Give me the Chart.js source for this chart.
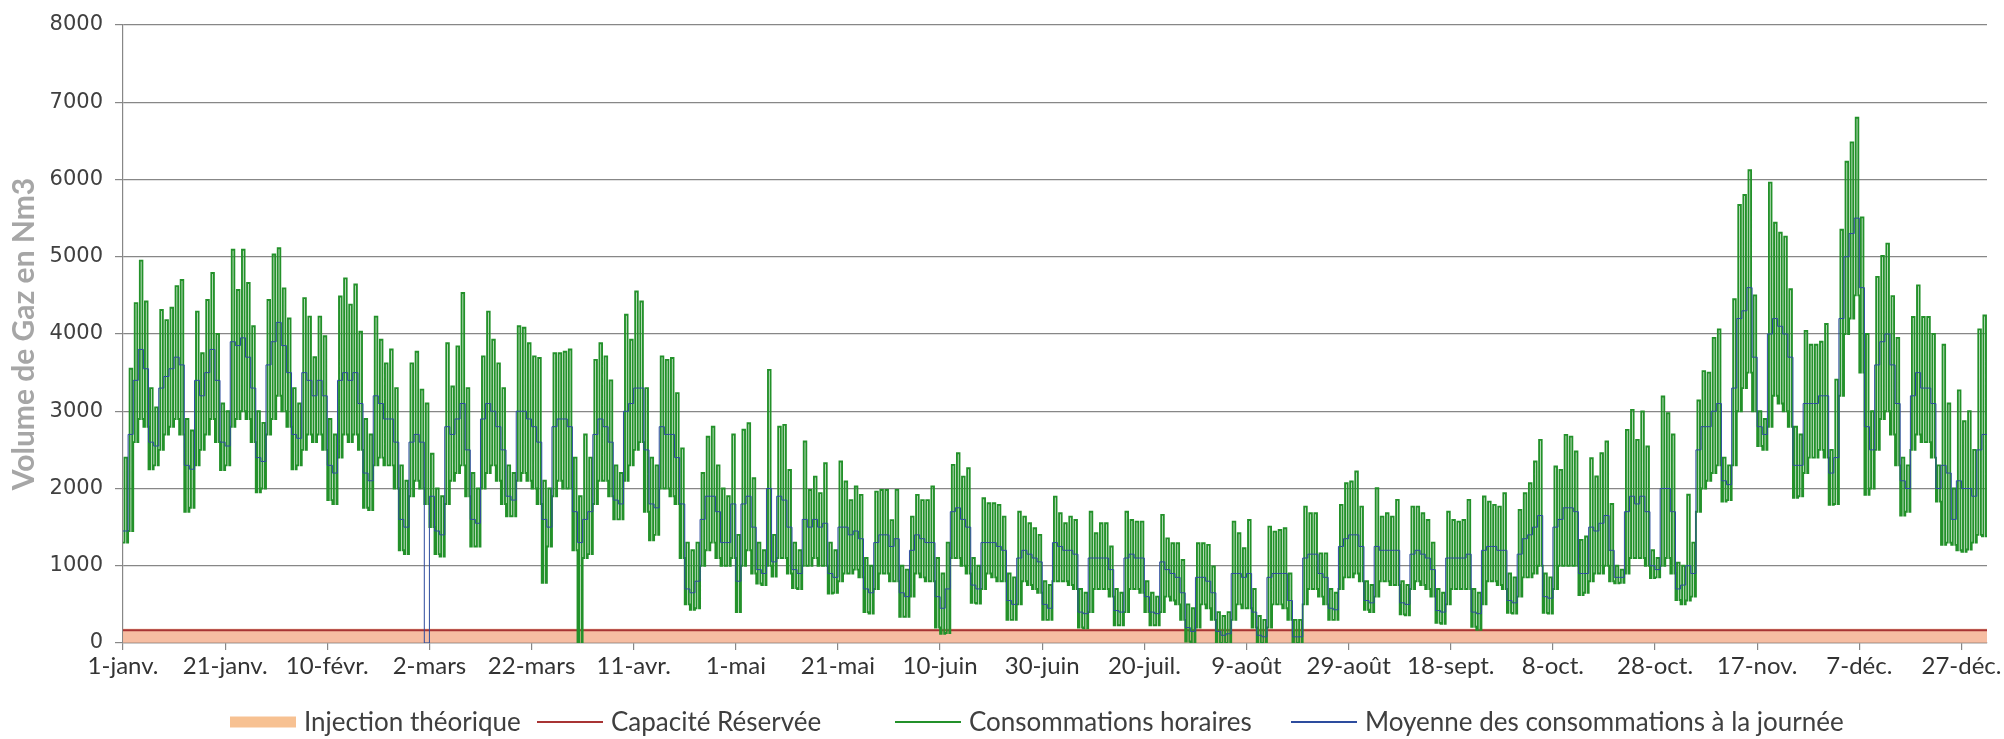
<!DOCTYPE html>
<html lang="fr">
<head>
<meta charset="utf-8">
<title>Consommations de gaz</title>
<script src="https://cdn.jsdelivr.net/npm/chart.js@4.4.1/dist/chart.umd.min.js"></script>
<style>
  html, body { margin: 0; padding: 0; background: #ffffff; }
  #wrap { position: relative; width: 2004px; height: 739px; }
</style>
</head>
<body>
<div id="wrap"><canvas id="chart" width="2004" height="739"></canvas></div>
<script>
// Date labels shown every 20 days along the year (day 0 = 1 janvier)
const tickLabels = ['1-janv.', '21-janv.', '10-févr.', '2-mars', '22-mars', '11-avr.', '1-mai', '21-mai',
  '10-juin', '30-juin', '20-juil.', '9-août', '29-août', '18-sept.', '8-oct.', '28-oct.',
  '17-nov.', '7-déc.', '27-déc.'];

// Daily maximum of the hourly consumption (Nm3), one row per week (Mon..Sun)
const dailyHigh = [
  2400,3550,4400,4950,4420,3300,3050,
  4310,4180,4340,4620,4700,2900,2750,
  4290,3750,4440,4790,4000,3100,3000,
  5090,4570,5090,4660,4100,3000,2850,
  4440,5030,5110,4590,4200,3300,3100,
  4465,4225,3700,4225,3970,2900,2700,
  4485,4720,4380,4640,4030,2900,2700,
  4225,3925,3620,3800,3300,2300,2100,
  3620,3770,3280,3100,2450,2000,1900,
  3880,3320,3840,4530,3300,2200,2000,
  3710,4290,3925,3620,3300,2300,2200,
  4100,4080,3880,3710,3690,2100,2000,
  3750,3750,3770,3800,2400,1900,2700,
  2400,3665,3880,3710,3400,2300,2200,
  4250,3925,4550,4420,3300,2400,2300,
  3710,3665,3690,3234,2520,1300,1200,
  1300,2200,2670,2800,2300,2000,1900,
  2700,1400,2760,2845,2133,1300,1200,
  3536,1400,2800,2824,2240,1300,1200,
  2608,1980,2154,1940,2327,1300,1200,
  2349,2090,1850,2025,1917,1100,1000,
  1960,1980,1980,1590,1982,1000,950,
  1636,1917,1850,1850,2025,1100,900,
  1300,2306,2457,2154,2262,1100,1000,
  1874,1810,1810,1788,1636,900,850,
  1700,1636,1550,1485,1400,800,750,
  1895,1680,1550,1636,1593,700,650,
  1700,1420,1550,1550,1250,700,650,
  1700,1593,1571,1571,800,650,600,
  1658,1355,1291,1291,1075,500,450,
  1291,1291,1270,990,400,350,400,
  1571,1420,1226,1593,700,350,300,
  1506,1442,1463,1485,900,300,300,
  1766,1680,1680,1160,1160,700,650,
  1788,2068,2090,2220,1766,800,750,
  2003,1636,1680,1636,1853,800,750,
  1766,1766,1680,1593,1300,700,650,
  1700,1593,1571,1593,1853,700,650,
  1896,1830,1788,1766,1939,900,850,
  1723,1939,2068,2349,2630,900,850,
  2284,2241,2694,2672,2479,1335,1378,
  2392,2155,2457,2608,1800,1000,950,
  2759,3018,2630,2997,2543,1200,1100,
  3191,2975,2700,1040,1000,1920,1300,
  3140,3520,3500,3950,4060,2400,2300,
  4450,5670,5800,6120,4500,3000,2900,
  5960,5440,5310,5260,4580,2800,2700,
  4040,3860,3860,3900,4130,2500,3410,
  5350,6230,6480,6800,5510,4000,3000,
  4740,5010,5170,4490,3950,2400,2300,
  4220,4630,4220,4220,4000,2300,3860,
  3100,2000,3270,2870,3000,2500,4060,
  4240
];

// Daily minimum of the hourly consumption (Nm3)
const dailyLow = [
  1300,1450,2600,2900,2800,2250,2300,
  2500,2700,2800,2900,2700,1700,1750,
  2300,2500,2700,2900,2600,2240,2300,
  2800,2900,3000,2900,2600,1950,2000,
  2700,2900,3200,3000,2800,2250,2300,
  2500,2700,2600,2700,2500,1850,1800,
  2400,2700,2600,2700,2500,1750,1720,
  2300,2400,2300,2300,2000,1200,1150,
  1900,2100,2000,1800,1500,1150,1120,
  1800,2100,2200,2300,1900,1250,1250,
  2000,2200,2300,2100,1800,1640,1640,
  2100,2200,2100,2000,1800,780,1250,
  1900,2100,2000,2000,1200,0,1100,
  1150,1800,2100,2100,1900,1600,1600,
  2100,2300,2500,2600,1700,1330,1400,
  2000,2000,1900,1800,1100,500,430,
  450,1000,1200,1300,1100,1000,1000,
  1100,400,1000,1200,900,770,750,
  1000,860,1100,1100,900,710,700,
  1000,1000,1100,1000,1000,640,650,
  800,900,900,950,850,400,380,
  700,900,900,800,800,340,340,
  600,900,850,800,800,200,120,
  130,1100,1100,1000,900,520,510,
  700,900,850,800,800,300,300,
  500,800,750,700,650,300,300,
  800,800,800,750,700,200,190,
  400,700,700,700,600,230,230,
  400,700,700,650,400,230,230,
  400,600,550,500,300,20,0,
  200,500,450,300,0,0,0,
  300,500,450,450,200,0,0,
  200,500,500,450,300,0,0,
  500,700,700,600,500,300,300,
  700,850,850,900,800,430,400,
  600,800,800,750,750,370,360,
  700,800,750,700,600,260,250,
  500,700,700,700,700,210,170,
  500,800,800,750,700,390,380,
  600,850,850,900,1000,390,380,
  700,1000,1000,1000,1000,620,650,
  800,900,900,1000,800,773,780,
  900,1100,1100,1100,1000,840,850,
  1000,1100,900,557,500,550,600,
  1700,2000,2100,2200,2300,1830,1850,
  2300,3000,3300,3500,3000,2550,2500,
  2800,3200,3100,3000,2800,1880,1900,
  2200,2400,2400,2500,2400,1790,1800,
  3200,4000,4200,4500,3500,1920,2000,
  2500,2900,3000,2700,2300,1650,1700,
  2500,2700,2600,2600,2400,1830,1270,
  1300,1270,1200,1180,1210,1300,1400,
  1380
];

// Daily average of the hourly consumption (Nm3)
const dailyMean = [
  1450,2700,3400,3800,3550,2600,2550,
  3300,3450,3550,3700,3600,2300,2250,
  3400,3200,3500,3800,3400,2600,2550,
  3900,3850,3950,3700,3300,2400,2350,
  3600,3900,4150,3850,3500,2700,2650,
  3500,3400,3200,3400,3200,2300,2200,
  3400,3500,3400,3500,3100,2200,2100,
  3200,3100,2900,2900,2600,1600,1500,
  2600,2700,2600,0,1900,1450,1400,
  2800,2700,2900,3100,2500,1600,1550,
  2900,3100,3000,2800,2500,1900,1850,
  3000,3000,2900,2800,2600,1600,1500,
  2800,2900,2900,2800,1700,1300,1600,
  1700,2700,2900,2800,2600,1850,1800,
  3000,3100,3300,3300,2500,1800,1750,
  2800,2700,2700,2400,1800,700,650,
  800,1600,1900,1900,1700,1300,1300,
  1800,800,1800,1900,1500,950,900,
  2000,1050,1900,1850,1500,950,900,
  1600,1500,1600,1500,1550,900,850,
  1500,1500,1400,1450,1350,700,650,
  1300,1400,1400,1250,1350,650,600,
  1200,1400,1350,1300,1300,600,450,
  700,1700,1750,1600,1500,750,700,
  1300,1300,1300,1250,1200,550,500,
  1100,1200,1150,1100,1050,500,450,
  1300,1250,1200,1200,1150,400,380,
  1100,1100,1100,1100,950,420,400,
  1100,1150,1100,1100,600,400,380,
  1050,950,900,850,650,200,150,
  850,850,800,650,150,100,120,
  900,900,850,900,400,100,80,
  850,900,900,900,550,80,80,
  1100,1150,1150,900,850,450,430,
  1250,1350,1400,1400,1250,550,520,
  1250,1200,1200,1200,1200,520,500,
  1150,1200,1150,1100,950,420,400,
  1100,1100,1100,1100,1150,400,380,
  1200,1250,1250,1200,1200,550,520,
  1150,1350,1400,1500,1650,600,580,
  1500,1600,1750,1750,1700,900,900,
  1500,1450,1550,1650,1200,850,850,
  1700,1900,1800,1900,1700,1000,950,
  2000,2000,1700,700,750,1000,900,
  2500,2800,2800,3000,3100,2100,2050,
  3300,4200,4300,4600,3700,2800,2700,
  4000,4200,4100,4000,3700,2300,2300,
  3100,3100,3100,3200,3200,2200,2400,
  4200,5000,5300,5500,4600,2800,2500,
  3600,3900,4000,3600,3100,2100,2000,
  3200,3500,3300,3300,3100,2000,2300,
  2200,1600,2100,2000,2000,1900,2500,
  2700
];

// Flat reference levels (Nm3)
const capaciteReservee = [165, 165];
const injectionTheorique = [95, 95];

const DAYS = dailyMean.length;

// Hourly profile per day: night low, daytime high, evening low (held values)
const hourlyPoints = [];
for (let d = 0; d < DAYS; d++) {
  hourlyPoints.push({ x: d, y: dailyLow[d] });
  hourlyPoints.push({ x: d + 0.3, y: dailyHigh[d] });
  hourlyPoints.push({ x: d + 0.8, y: dailyLow[d] });
}
hourlyPoints.push({ x: DAYS, y: dailyLow[DAYS - 1] });

const meanPoints = dailyMean.map((v, d) => ({ x: d, y: v }));
meanPoints.push({ x: DAYS, y: dailyMean[DAYS - 1] });

const flatLine = arr => [{ x: 0, y: arr[0] }, { x: DAYS, y: arr[1] }];

const GRID = '#878787';
const LABEL_FONT = 'Lato, "Open Sans", sans-serif';

// Legend drawn below the axis labels; each entry starts at its own x
const legendStarts = [230, 537, 895, 1291];
const bottomLegend = {
  id: 'bottomLegend',
  afterDraw(chart) {
    const ctx = chart.ctx;
    const y = 722;
    const swatch = 66, gapText = 8;
    ctx.save();
    ctx.font = '26px ' + LABEL_FONT;
    ctx.textBaseline = 'middle';
    ctx.textAlign = 'left';
    chart.data.datasets.forEach((ds, i) => {
      const x = legendStarts[i];
      ctx.strokeStyle = ds.legendColor || ds.borderColor;
      ctx.lineWidth = ds.legendWidth;
      ctx.beginPath();
      ctx.moveTo(x, y);
      ctx.lineTo(x + swatch, y);
      ctx.stroke();
      ctx.fillStyle = '#3f3f3f';
      ctx.fillText(ds.label, x + swatch + gapText, y + 1);
    });
    ctx.restore();
  }
};

new Chart(document.getElementById('chart'), {
  type: 'line',
  data: {
    datasets: [
      {
        label: 'Injection théorique',
        data: flatLine(injectionTheorique),
        borderColor: 'rgba(244,178,146,0.85)',
        legendColor: 'rgba(247,190,140,0.95)',
        borderWidth: 14,
        legendWidth: 11,
        pointRadius: 0,
        order: 4
      },
      {
        label: 'Capacité Réservée',
        data: flatLine(capaciteReservee),
        borderColor: '#a83434',
        borderWidth: 2,
        legendWidth: 2,
        pointRadius: 0,
        order: 3
      },
      {
        label: 'Consommations horaires',
        data: hourlyPoints,
        borderColor: '#23912a',
        borderWidth: 1.9,
        legendWidth: 2,
        pointRadius: 0,
        stepped: true,
        order: 2
      },
      {
        label: 'Moyenne des consommations à la journée',
        data: meanPoints,
        borderColor: '#2d4c9e',
        borderWidth: 1,
        legendWidth: 2,
        pointRadius: 0,
        stepped: true,
        order: 1
      }
    ]
  },
  options: {
    responsive: false,
    animation: false,
    devicePixelRatio: 1,
    layout: { padding: { top: 25, right: 17, left: 0, bottom: 0 } },
    plugins: {
      legend: { display: false },
      tooltip: { enabled: false }
    },
    scales: {
      x: {
        type: 'linear',
        min: 0,
        max: DAYS,
        afterFit(scale) { scale.height = 96; },
        border: { color: GRID, width: 1.2 },
        grid: { drawOnChartArea: false, drawTicks: true, tickLength: 7, color: GRID, lineWidth: 1.2 },
        ticks: {
          stepSize: 20,
          includeBounds: false,
          autoSkip: false,
          maxRotation: 0,
          padding: 2,
          color: '#333333',
          font: { family: LABEL_FONT, size: 24 },
          callback: v => tickLabels[v / 20] ?? ''
        }
      },
      y: {
        min: 0,
        max: 8000,
        afterFit(scale) { scale.width = 123; },
        border: { color: GRID, width: 1.2 },
        grid: { color: GRID, lineWidth: 1.2, tickLength: 8 },
        ticks: {
          stepSize: 1000,
          padding: 12,
          color: '#404040',
          font: { family: '"DejaVu Sans", Verdana, sans-serif', size: 21 },
          callback: v => String(v)
        },
        title: {
          display: true,
          text: 'Volume de Gaz en Nm3',
          color: '#a6a6a6',
          padding: { top: 6, bottom: 0 },
          font: { family: LABEL_FONT, size: 30, weight: 'bold' }
        }
      }
    }
  },
  plugins: [bottomLegend]
});
</script>
</body>
</html>
